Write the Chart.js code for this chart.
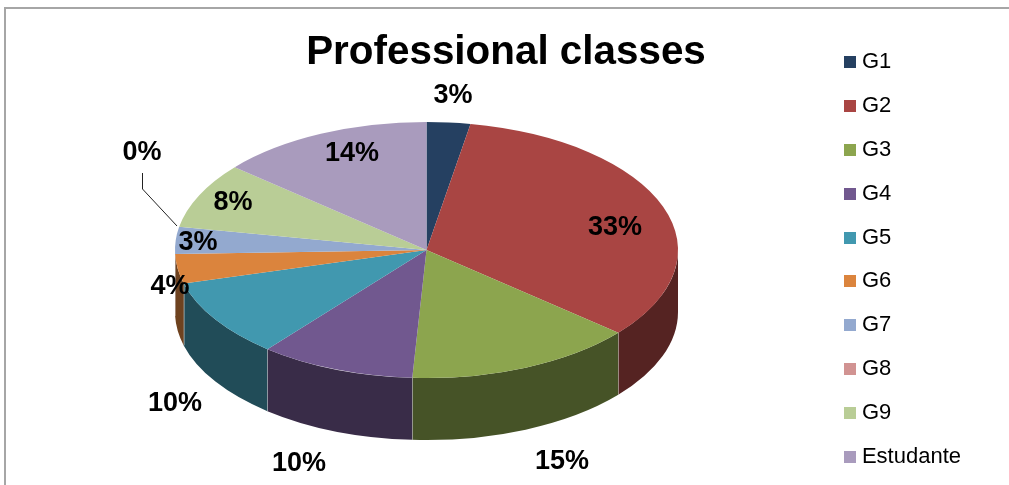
<!DOCTYPE html>
<html>
<head>
<meta charset="utf-8">
<title>Professional classes</title>
<style>
    html, body { margin: 0; background: #fff; }
    #wrap { position: relative; width: 1009px; height: 485px; overflow: hidden; }
    #frame { position: absolute; left: 4px; top: 7px; width: 1100px; height: 600px; border: 2px solid #a6a6a6; }
    canvas { position: absolute; left: 0; top: 0; }
</style>
</head>
<body>
<div id="wrap">
    <div id="frame"></div>
    <canvas id="classesChart" width="1009" height="485"></canvas>
</div>
<script src="https://cdn.jsdelivr.net/npm/chart.js@4/dist/chart.umd.min.js"></script>
<script>
const categories = ['G1', 'G2', 'G3', 'G4', 'G5', 'G6', 'G7', 'G8', 'G9', 'Estudante'];
const shares = [2.8, 33.4, 14.7, 10, 9.9, 3.7, 3.4, 0, 8.3, 13.8];
const sliceColors = ['#254061', '#A94543', '#8CA54E', '#71588F', '#4198AF', '#DB843D', '#93A9CF', '#D19392', '#B9CD96', '#A99BBD'];
const wallColors = ['#132031', '#552322', '#465327', '#392C48', '#214C58', '#6E421F', '#4A5568', '#694A49', '#5D674B', '#554E5F'];

// where Excel left each percentage (centre of the text)
const labelSpots = [[453, 96], [615, 228], [562, 462], [299, 464], [175, 404], [170, 287], [198, 243], [142, 153], [233, 203], [352, 154]];

const pie3d = { cx: 426.5, cy: 250, rx: 251.5, ry: 128, depth: 62 };
const labelFont = 'bold 27px "Liberation Sans"';

const swatch = (color) => {
    const c = document.createElement('canvas');
    c.width = 12;
    c.height = 12;
    const g = c.getContext('2d');
    g.fillStyle = color;
    g.fillRect(0, 0, 12, 12);
    return c;
};

// Chart.js only knows flat pies: squash the arcs and put a wall under the front half
const tiltPlugin = {
    id: 'tilt',
    beforeDatasetsDraw(chart) {
        const { ctx } = chart;
        const arcs = chart.getDatasetMeta(0).data;
        const { cx, cy, rx, ry, depth } = pie3d;

        const visible = arcs
            .map((arc, i) => ({ i, from: Math.max(arc.startAngle, 0), to: Math.min(arc.endAngle, Math.PI) }))
            .filter((w) => w.to > w.from);
        visible.forEach((w) => {
            ctx.beginPath();
            ctx.ellipse(cx, cy, rx, ry, 0, w.from, w.to);
            ctx.ellipse(cx, cy + depth, rx, ry, 0, w.to, w.from, true);
            ctx.closePath();
            ctx.fillStyle = wallColors[w.i];
            ctx.fill();
        });

        // thin light seams between the walls
        ctx.strokeStyle = 'rgba(255, 255, 255, 0.3)';
        ctx.lineWidth = 1;
        visible.forEach((w) => {
            if (w.from === 0) return;
            const x = Math.round(cx + rx * Math.cos(w.from)) + 0.5;
            const y = cy + ry * Math.sin(w.from);
            ctx.beginPath();
            ctx.moveTo(x, y);
            ctx.lineTo(x, y + depth);
            ctx.stroke();
        });

        const first = arcs[0];
        ctx.save();
        ctx.translate(cx, cy);
        ctx.scale(rx / first.outerRadius, ry / first.outerRadius);
        ctx.translate(-first.x, -first.y);
    },
    afterDatasetsDraw(chart) {
        const { ctx } = chart;
        ctx.restore();

        // leader line of the empty G8 slice
        ctx.strokeStyle = '#222';
        ctx.lineWidth = 1;
        ctx.beginPath();
        ctx.moveTo(142.5, 173);
        ctx.lineTo(142.5, 189);
        ctx.lineTo(177, 226);
        ctx.stroke();

        ctx.font = labelFont;
        ctx.fillStyle = '#000';
        ctx.textAlign = 'center';
        ctx.textBaseline = 'middle';
        shares.forEach((share, i) => {
            ctx.fillText(Math.round(share) + '%', labelSpots[i][0], labelSpots[i][1]);
        });
    }
};

new Chart(document.getElementById('classesChart'), {
    type: 'pie',
    data: {
        labels: categories,
        datasets: [{
            data: shares,
            backgroundColor: sliceColors,
            borderWidth: 0,
            clip: false
        }]
    },
    options: {
        responsive: false,
        animation: false,
        layout: {
            padding: { top: 29, left: 41, right: 38, bottom: -30 }
        },
        plugins: {
            title: {
                display: true,
                text: 'Professional classes',
                color: '#000',
                font: { family: '"Liberation Sans"', size: 40.4, weight: 'bold' },
                padding: { top: 0, bottom: -48 }
            },
            legend: {
                position: 'right',
                align: 'start',
                padding: 0,
                labels: {
                    usePointStyle: true,
                    boxWidth: 2,
                    boxHeight: 2,
                    padding: 21.9,
                    color: '#111',
                    font: { family: '"Liberation Sans"', size: 22 },
                    generateLabels: () => categories.map((text, i) => ({
                        text,
                        index: i,
                        hidden: false,
                        lineWidth: 0,
                        fillStyle: sliceColors[i],
                        strokeStyle: sliceColors[i],
                        pointStyle: swatch(sliceColors[i])
                    }))
                }
            },
            tooltip: { enabled: false }
        }
    },
    plugins: [tiltPlugin]
});
</script>
</body>
</html>
